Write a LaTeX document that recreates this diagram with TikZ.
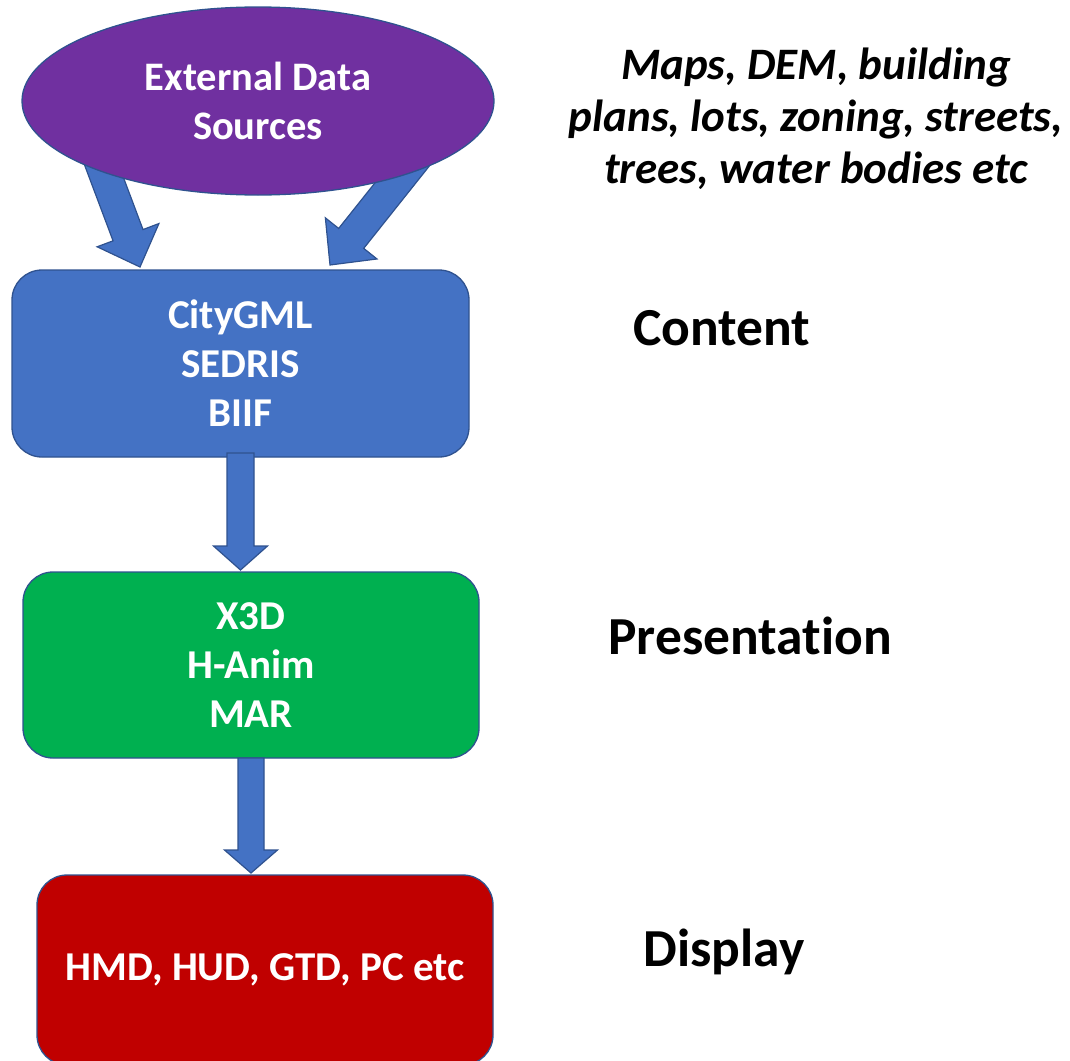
\documentclass[tikz,border=0pt]{standalone}
\usepackage{fontspec}
\setmainfont{Carlito}[Ligatures={NoCommon}]
\usetikzlibrary{shapes.geometric,calc}
\definecolor{cpurple}{HTML}{7030A0}
\definecolor{cblue}{HTML}{4472C4}
\definecolor{cgreen}{HTML}{00B050}
\definecolor{cred}{HTML}{C00000}
\definecolor{cline}{HTML}{2F528F}
\pgfdeclarelayer{background}
\pgfsetlayers{background,main}
% #1 tail, #2 tip, #3 half shaft width, #4 half head width, #5 head length
\newcommand\blockarrow[5]{%
  \coordinate (baB) at ($(#2)!#5!(#1)$);
  \filldraw[barrow] ($(#1)!#3!90:(#2)$) -- ($(baB)!#3!90:(#2)$) -- ($(baB)!#4!90:(#2)$)
    -- (#2) -- ($(baB)!#4!-90:(#2)$) -- ($(baB)!#3!-90:(#2)$) -- ($(#1)!#3!-90:(#2)$) -- cycle;
}
\begin{document}
\begin{tikzpicture}[x=1pt,y=-1pt,
  box/.style={draw=cline, line width=1.3pt, rounded corners=30pt, inner sep=0pt, outer sep=0pt,
    text=white, align=center, font=\fontsize{41}{49}\selectfont\bfseries},
  barrow/.style={fill=cblue, draw=cline, line width=1.2pt, line join=miter},
  side/.style={font=\fontsize{53.5}{60}\selectfont\bfseries, anchor=base, inner sep=0pt}]
\path[use as bounding box] (0,0) rectangle (1070,1060);
\clip (0,0) rectangle (1070,1060);

\node[ellipse, draw=cline, fill=cpurple, line width=1.3pt, minimum width=472pt, minimum height=188pt,
  inner sep=0pt, text=white, align=center, font=\fontsize{40.5}{49}\selectfont\bfseries] (ext) at (258,101) {External Data\\Sources};

\node[box, fill=cblue, minimum width=457pt, minimum height=187pt] (content) at (240.5,363.5) {CityGML\\SEDRIS\\BIIF};
\node[box, fill=cgreen, minimum width=456pt, minimum height=186pt] (pres) at (251,665) {X3D\\H-Anim\\MAR};
\node[box, fill=cred, minimum width=456pt, minimum height=190pt] (disp) at (265,970) {HMD, HUD, GTD, PC etc};

\node[font=\fontsize{45}{52}\selectfont\bfseries\itshape, align=center, inner sep=0pt] (srcs) at (816,119)
  {Maps, DEM, building\\plans, lots, zoning, streets,\\trees, water bodies etc};
\node[side] (lc) at (722,345) {Content};
\node[side] (lp) at (750,654) {Presentation};
\node[side] (ld) at (724,966) {Display};

\begin{pgfonlayer}{background}
  \coordinate (t1) at ($(ext.center)+(-162,49)$);
  \coordinate (p1) at ($(content.north)+(-100.5,-3)$);
  \blockarrow{t1}{p1}{16pt}{33pt}{34pt}
  \coordinate (t2) at ($(ext.center)+(163.6,49)$);
  \coordinate (p2) at ($(content.north)+(89.5,-5)$);
  \blockarrow{t2}{p2}{16pt}{33pt}{34pt}
\end{pgfonlayer}

\coordinate (t3) at ($(content.south)+(0,-4)$);
\coordinate (p3) at ($(content.south |- pres.north)+(0,-2)$);
\blockarrow{t3}{p3}{13.5pt}{27pt}{24pt}
\coordinate (t4) at (pres.south);
\coordinate (p4) at ($(pres.south |- disp.north)+(0,-2)$);
\blockarrow{t4}{p4}{13pt}{26.5pt}{23pt}
\end{tikzpicture}
\end{document}
